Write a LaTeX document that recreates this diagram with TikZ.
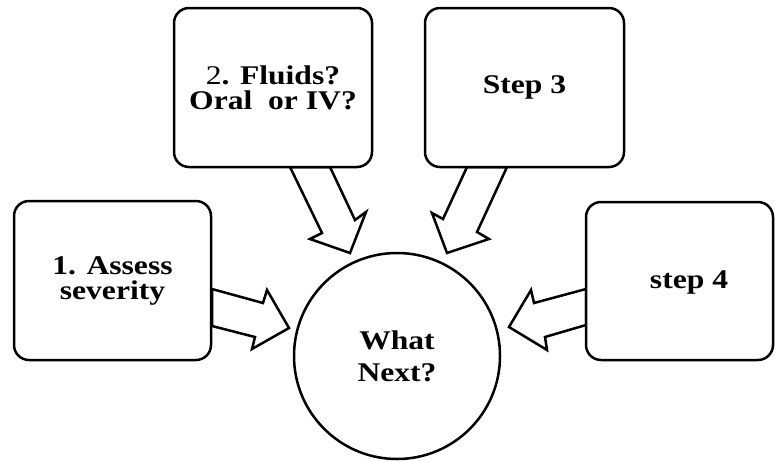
\documentclass[tikz,border=0pt]{standalone}
\usepackage{fontspec}
\setmainfont{Liberation Serif}[FakeStretch=1.17]
\begin{document}
\begin{tikzpicture}[x=1pt,y=-1pt,
  stepbox/.style={draw, line width=2.5pt, rounded corners=15pt, fill=white,
    inner sep=0pt, align=center, font=\fontsize{27}{25}\selectfont\bfseries},
  hub/.style={draw, circle, line width=2.5pt, fill=white, minimum size=206pt,
    inner sep=0pt, align=center, font=\fontsize{27}{32}\selectfont\bfseries},
  blockarrow/.style={draw, line width=2.5pt, line join=miter, fill=white},
  label/.style={inner sep=0pt, align=center, font=\fontsize{27}{25}\selectfont\bfseries}]
\useasboundingbox (0,0) rectangle (775,461);

% hollow block arrows pointing at the centre
\draw[blockarrow] (212,289) -- (263,303) -- (267,290) -- (289,328) -- (252,349) -- (255,337) -- (212,326) -- cycle;
\draw[blockarrow] (290,167) -- (322,233) -- (310,239) -- (350,253) -- (366,212) -- (355,220) -- (330,167) -- cycle;
\draw[blockarrow] (467,167) -- (443,219) -- (432,213) -- (447,253) -- (489,239) -- (477,232) -- (507,167) -- cycle;
\draw[blockarrow] (586,289) -- (534,303) -- (531,290) -- (509,327) -- (547,350) -- (545,337) -- (586,325) -- cycle;

% step boxes
\node[stepbox, minimum width=197pt, minimum height=159pt] (s1) at (112.5,280.5) {1. Assess\\severity};
\node[stepbox, minimum width=198pt, minimum height=159pt] (s2) at (273,87.5) {{\mdseries 2}. Fluids?\\Oral\ \ or IV?};
\node[stepbox, minimum width=199pt, minimum height=159pt] (s3) at (524.5,87.5) {Step 3};
\node[stepbox, minimum width=187pt, minimum height=158pt] (s4) at (679.5,281) {};
\node[label] (s4t) at (689,282) {step 4};

% centre circle
\node[hub] (next) at (397,356) {What\\Next?};
\end{tikzpicture}
\end{document}
